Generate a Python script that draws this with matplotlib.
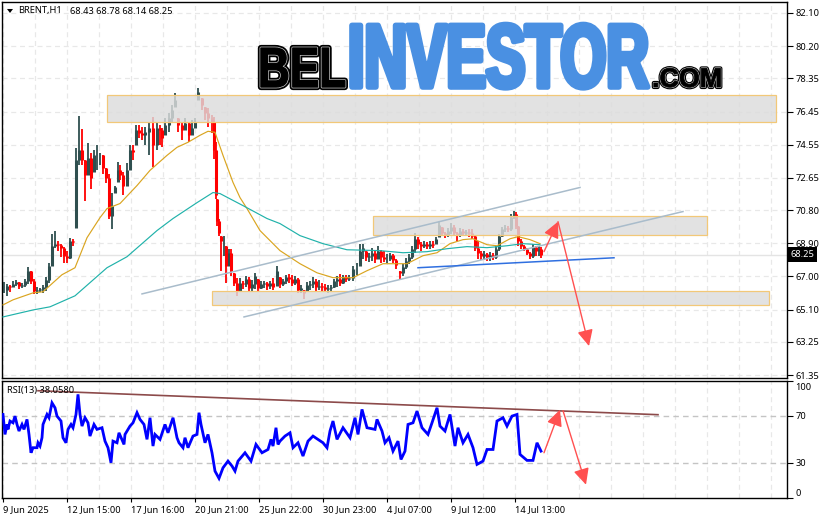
import matplotlib
matplotlib.use("Agg")
import matplotlib.pyplot as plt
import matplotlib.patheffects as pe
from matplotlib.patches import Rectangle, Polygon
from matplotlib.transforms import Affine2D, ScaledTranslation
import numpy as np

W, H = 827, 519

# candles, sampled along the chart: bar position, high, low, close
bars = [4,7,10,13,16,19,22,25,28,31,34,37,40,43,46,49,52,55,58,61,64,67,70,73,76,79,82,85,88,91,94,97,100,103,106,109,112,115,118,120,123,127,130,133,136,139,142,145,149,153,157,160,162,165,169,172,175,178,182,185,189,192,195,198,202,205,208,212,214,216,217,219,221,224,226,229,231,234,237,240,243,246,249,252,255,258,261,264,267,270,273,277,280,283,286,289,292,295,298,301,304,307,310,313,316,319,322,325,328,331,334,337,340,343,346,349,353,357,360,363,366,369,372,375,378,381,384,387,390,393,396,400,403,406,409,412,415,418,421,424,427,430,433,436,439,442,445,448,451,454,457,460,463,466,469,472,475,478,481,484,487,490,493,496,499,502,505,508,511,514,516,518,521,524,527,530,533,536,539,541]
highs = [66.69,66.58,66.52,66.75,66.81,66.69,66.64,66.87,67.56,67.33,66.87,66.40,66.35,66.52,66.98,67.79,69.45,69.63,69.05,68.88,68.71,68.48,69.22,69.16,74.34,76.18,75.43,73.65,74.63,74.05,74.23,74.51,74.05,73.94,73.19,72.90,71.81,72.21,73.54,73.36,72.96,73.48,74.51,74.51,75.66,75.66,75.55,75.55,75.78,76.12,75.84,75.66,75.49,76.06,76.35,76.81,77.50,76.07,75.84,76.07,75.78,75.95,76.07,77.79,77.21,76.70,76.64,76.24,76.12,74.69,71.46,70.32,69.34,69.34,68.76,68.59,68.59,67.21,66.93,66.93,66.75,67.04,66.98,66.81,67.21,66.87,66.75,66.75,66.69,66.75,66.93,67.61,66.98,66.87,67.10,67.15,67.10,67.04,66.93,66.52,66.23,66.69,66.75,66.98,66.87,66.81,66.64,66.58,66.52,66.52,66.87,67.04,67.15,67.10,67.10,67.10,67.61,67.79,68.88,68.88,68.48,68.36,68.65,68.48,68.76,68.53,68.48,68.30,68.36,68.30,68.01,67.33,67.73,68.07,68.30,68.76,69.51,69.28,68.99,69.05,68.99,69.05,69.05,69.28,70.14,69.85,69.57,69.80,70.09,69.97,69.57,69.80,69.74,69.68,69.74,69.74,69.40,69.05,68.48,68.48,68.36,68.42,68.36,68.76,69.45,69.85,69.97,69.91,70.60,70.78,70.72,69.91,69.16,68.82,68.65,68.42,68.88,68.76,68.76,68.70]
lows = [66.06,65.89,66.12,66.40,66.46,66.29,66.35,66.40,66.58,66.58,66.00,66.00,66.12,66.06,66.18,66.64,67.61,68.65,68.48,68.13,67.79,67.79,68.01,68.76,69.80,73.36,73.36,71.35,72.79,72.04,72.96,73.08,73.36,72.90,72.33,70.32,69.74,71.81,72.39,72.50,71.64,72.21,73.08,73.65,74.51,74.91,74.80,74.51,73.94,73.25,74.23,74.51,74.40,75.09,75.26,75.84,76.70,75.26,74.80,75.38,74.69,75.09,75.49,77.10,76.53,75.95,75.55,75.20,73.76,71.46,69.91,69.34,67.33,68.19,66.64,67.61,67.04,66.46,65.89,66.18,66.29,66.40,66.18,66.18,66.29,66.18,66.29,66.35,66.23,66.29,66.23,66.46,66.35,66.46,66.58,66.64,66.46,66.52,66.06,66.06,65.72,66.18,66.23,66.35,66.18,66.23,66.18,66.12,66.06,66.18,66.35,66.40,66.46,66.58,66.69,66.75,66.75,67.10,67.61,68.00,67.90,67.84,67.90,67.79,68.01,67.79,67.84,67.79,67.90,67.79,67.44,66.81,67.04,67.44,67.73,68.01,68.36,68.59,68.48,68.65,68.59,68.59,68.65,68.88,69.28,69.34,69.22,69.28,69.45,69.40,69.05,69.28,69.34,69.34,69.28,69.16,68.48,68.01,67.96,67.96,67.90,67.90,67.96,68.01,68.48,69.28,69.57,69.57,69.63,70.32,69.74,68.76,68.59,68.48,68.24,68.01,68.07,68.19,68.19,68.07]
closes = [66.23,66.46,66.40,66.58,66.69,66.46,66.52,66.75,67.33,66.75,66.18,66.23,66.29,66.40,66.81,67.61,68.76,68.88,68.82,68.65,68.19,68.07,69.05,68.99,73.65,74.23,73.65,72.79,73.77,72.62,73.94,73.94,73.94,73.19,72.62,70.49,71.06,72.10,73.08,72.79,72.21,73.08,74.23,74.11,75.38,75.20,75.09,75.26,75.49,74.51,75.49,75.38,74.91,75.66,76.07,76.53,77.10,75.66,75.38,75.78,75.09,75.49,75.84,77.56,76.81,76.35,76.07,75.84,74.23,71.64,70.20,69.51,69.05,69.05,67.61,68.36,67.33,66.64,66.18,66.64,66.58,66.87,66.35,66.58,67.04,66.35,66.58,66.64,66.46,66.64,66.40,67.33,66.58,66.75,66.98,66.87,66.64,66.87,66.23,66.35,66.06,66.52,66.58,66.75,66.40,66.46,66.40,66.29,66.35,66.40,66.75,66.87,66.64,66.98,66.87,66.93,67.44,67.44,68.48,68.65,68.13,68.19,68.36,68.01,68.48,68.13,68.01,68.01,68.24,67.96,67.67,67.21,67.56,67.90,68.13,68.59,69.16,68.88,68.76,68.88,68.76,68.88,68.82,69.16,69.97,69.51,69.40,69.63,69.85,69.51,69.40,69.63,69.51,69.57,69.51,69.34,68.65,68.36,68.19,68.30,68.13,68.24,68.13,68.59,69.34,69.74,69.80,69.74,70.43,70.60,69.91,69.05,68.76,68.59,68.36,68.19,68.71,68.48,68.59,68.25]

# moving averages
ma_slow_bars = [3,13,33,43,53,62,75,87,100,107,120,137,150,167,177,188,200,208,215,223,233,240,247,260,280,300,317,333,353,367,383,407,423,437,450,463,473,487,497,510,518,530,540]
ma_slow = [65.37,65.66,66.06,66.12,66.64,67.10,67.50,69.22,70.37,70.89,71.18,72.21,73.08,73.94,74.40,74.69,75.09,75.32,75.26,73.94,72.39,71.52,70.89,69.63,68.48,67.73,67.21,66.93,66.93,67.33,67.73,67.73,68.19,68.36,68.88,69.11,69.16,68.82,68.76,69.16,69.28,69.11,68.88]
ma_long_bars = [3,33,50,75,107,127,157,173,197,213,220,243,267,280,300,323,347,380,403,427,447,467,487,507,523,540]
ma_long = [64.68,65.08,65.26,65.89,67.50,68.13,69.63,70.32,71.23,71.81,71.75,71.06,70.32,70.03,69.34,68.88,68.53,68.48,68.36,68.42,68.59,68.71,68.65,68.76,68.88,68.82]

# RSI
rsi_bars = [3,5,7,8,10,13,15,17,19,22,24,27,29,31,33,37,38,40,42,43,47,49,52,55,57,61,63,66,68,71,73,76,78,80,82,85,88,90,94,97,102,105,108,111,113,117,119,124,125,130,133,137,140,144,147,150,153,155,160,165,168,173,177,179,183,185,188,193,197,199,201,205,208,212,215,219,223,228,232,235,238,245,251,256,262,268,271,273,276,278,280,285,290,293,298,303,308,313,318,323,327,330,333,337,343,350,355,358,362,367,375,377,382,385,389,393,398,401,405,408,413,417,422,428,432,437,440,445,450,455,458,463,468,473,477,483,487,493,497,503,507,512,517,520,527,533,537,541]
rsi_vals = [71.1,54.1,62.6,58.4,65.5,64.0,69.7,62.6,57.0,62.6,58.4,66.9,54.1,38.5,42.8,42.8,47.0,44.2,51.3,62.6,71.1,68.3,81.0,76.8,69.7,65.5,51.3,47.0,58.4,62.6,59.8,71.1,88.2,71.1,61.2,68.3,64.0,52.7,62.6,58.4,59.8,48.4,42.8,30.0,48.4,47.0,55.5,45.6,54.1,61.2,64.0,72.6,66.9,62.6,49.9,68.3,44.2,54.1,49.9,62.6,55.5,68.3,51.3,47.0,42.8,51.3,42.8,52.7,54.1,72.6,62.6,47.0,54.1,38.5,22.9,16.7,25.7,31.4,27.2,22.9,31.4,38.5,31.4,45.6,38.5,41.3,49.9,44.2,59.8,45.6,48.4,52.7,55.5,42.8,47.0,35.7,48.4,52.7,49.9,47.0,42.8,57.0,65.5,49.9,59.8,51.3,68.3,54.1,75.4,59.8,58.4,66.9,57.0,47.0,51.3,39.9,48.4,32.8,39.9,62.6,64.0,74.0,59.8,54.1,64.0,76.8,61.2,57.0,71.1,44.2,59.8,47.0,54.1,42.8,28.6,31.4,41.3,41.3,65.5,68.3,61.2,69.7,71.1,37.1,32.0,32.0,47.0,39.9]

price_ticks = [82.10, 80.20, 78.35, 76.45, 74.55, 72.65, 70.80, 68.90, 67.00, 65.10, 63.25, 61.35]
rsi_ticks = [100, 70, 30, 0]
time_labels = ["9 Jun 2025", "12 Jun 15:00", "17 Jun 16:00", "20 Jun 21:00", "25 Jun 22:00",
               "30 Jun 23:00", "4 Jul 07:00", "9 Jul 12:00", "14 Jul 13:00"]
last_price = 68.25

# price zones: first bar, last bar, top, bottom
zones = [(107, 776, 77.39, 75.83), (373, 707, 70.49, 69.39), (212, 769, 66.18, 65.37)]
channel_upper = ([142, 580], [66.00, 72.10])
channel_lower = ([244, 683], [64.68, 70.72])
support_line = ([418, 614], [67.50, 68.07])
rsi_trend = ([38, 658], [91.3, 70.9])
price_path = ([544, 558, 589], [68.42, 70.14, 63.01])
rsi_path_up = ([544, 560], [38.5, 75.1])
rsi_path_down = ([563, 586], [74.3, 11.3])

DARK = "#2f4f4f"
RED = "#ff0000"
ARROW = "#ff5050"
GRID = "#e8e8e8"
TXT = "Noto Sans"
FS = 6.7
LOGO_BASE = H - 87


class Stretched(pe.Stroke):
    # real text, made taller about its baseline, since no condensed heavy face is installed
    def __init__(self, x0, sx, sy, **kw):
        super().__init__(**kw)
        self.x0, self.sx, self.sy = x0, sx, sy

    def _offset_transform(self, renderer):
        return (Affine2D().translate(-self.x0, -LOGO_BASE).scale(self.sx, self.sy)
                .translate(self.x0, LOGO_BASE))


def px_axes(fig, left, top, right, bottom):
    return fig.add_axes([left / W, 1 - bottom / H, (right - left) / W, (bottom - top) / H])


def style_axes(ax):
    ax.set_xlim(2, 787)
    ax.yaxis.tick_right()
    for s in ax.spines.values():
        s.set_linewidth(1.0)
    ax.tick_params(axis="y", length=4, width=0.8, pad=2, labelsize=FS)
    ax.set_axisbelow(True)
    for v in np.arange(3, 787, 32):
        ax.axvline(v, color=GRID, lw=0.9, ls=(0, (4, 3)), zorder=0)


def arrow(ax, xs, ys):
    ax.annotate("", xy=(xs[1], ys[1]), xytext=(xs[0], ys[0]),
                arrowprops=dict(arrowstyle="-|>,head_length=0.7,head_width=0.34", color=ARROW,
                                lw=1.0, mutation_scale=14, shrinkA=0, shrinkB=0), zorder=7)


def logo_text(fig, x0, x1, s, size, sy, color, layers):
    # fit the word to x0..x1, then stretch it upward from the logo baseline
    t = fig.text(x0 / W, LOGO_BASE / H, s, fontsize=size, weight="bold", family="Liberation Sans",
                 color=color, va="baseline")
    width = t.get_window_extent(fig.canvas.get_renderer()).width
    sx = (x1 - x0) / width
    t.set_path_effects([Stretched(x0, sx, sy, linewidth=lw, foreground=c) for lw, c in layers])
    return t


fig = plt.figure(figsize=(W / 100, H / 100), dpi=100)
ax = px_axes(fig, 2, 2, 787, 378)
rs = px_axes(fig, 2, 380.5, 787, 498)
style_axes(ax)
style_axes(rs)

# price panel
ax.set_ylim(61.18, 82.73)
ax.set_xticks([])
ax.set_yticks(price_ticks)
ax.set_yticklabels([f"{p:.2f}" for p in price_ticks], family=TXT)
for p in price_ticks:
    ax.axhline(p, color=GRID, lw=0.9, ls=(0, (4, 3)), zorder=0)
ax.axhline(last_price, color="#e4e4e4", lw=1.0, zorder=0.5)

prev = closes[0]
for x, hi, lo, c in zip(bars, highs, lows, closes):
    o = min(max(prev, lo), hi)
    col = DARK if c >= o else RED
    ax.plot([x, x], [lo, hi], color=col, lw=1.3, solid_capstyle="butt", zorder=2)
    ax.plot([x, x], [o, c], color=col, lw=2.2, solid_capstyle="butt", zorder=2)
    prev = c

ax.plot(ma_slow_bars, ma_slow, color="#daa520", lw=0.85, zorder=3)
ax.plot(ma_long_bars, ma_long, color="#20b2aa", lw=0.85, zorder=3)

for x0, x1, top, bot in zones:
    ax.add_patch(Rectangle((x0, bot), x1 - x0, top - bot, facecolor="#dcdcdc", alpha=0.82,
                           edgecolor="none", zorder=4))
    ax.add_patch(Rectangle((x0, bot), x1 - x0, top - bot, facecolor="none",
                           edgecolor="#f2c878", lw=0.9, zorder=4))

ax.plot(*channel_upper, color="#a9bccb", lw=1.1, zorder=5)
ax.plot(*channel_lower, color="#a9bccb", lw=1.1, zorder=5)
ax.plot(*support_line, color="#2f6fe0", lw=1.1, zorder=5)
arrow(ax, price_path[0][:2], price_path[1][:2])
arrow(ax, price_path[0][1:], price_path[1][1:])

# current price box
ax.text(790.5, last_price, f"{last_price:.2f}", color="white", fontsize=FS, family=TXT, va="center",
        ha="left", clip_on=False, zorder=9,
        bbox=dict(boxstyle="square,pad=0.3", fc="black", ec="black", lw=0))

# header
ax.add_patch(Polygon([(7, 82.33), (13, 82.33), (10, 82.10)], closed=True, fc="black", ec="none", zorder=9))
fig.text(18 / W, 1 - 11 / H, "BRENT,H1", fontsize=FS, family=TXT, va="center")
fig.text(70 / W, 1 - 11 / H, "68.43 68.78 68.14 68.25", fontsize=FS, family=TXT, va="center")

# RSI panel
rs.set_ylim(0, 100)
rs.set_yticks(rsi_ticks)
rs.set_yticklabels([str(v) for v in rsi_ticks], family=TXT)
top_label = rs.get_yticklabels()[0]
top_label.set_va("top")
top_label.set_transform(top_label.get_transform() + ScaledTranslation(0, -2 / 72, fig.dpi_scale_trans))
rs.get_yticklabels()[-1].set_va("bottom")
for v in (70, 30):
    rs.axhline(v, color="#c4c4c4", lw=1.0, ls=(0, (4, 3)), zorder=0.5)
rs.plot(rsi_bars, rsi_vals, color="#0000ff", lw=2.0, solid_joinstyle="miter", zorder=3)
rs.plot(*rsi_trend, color="#8c4a4a", lw=1.2, zorder=4)
arrow(rs, *rsi_path_up)
arrow(rs, *rsi_path_down)
rs.text(7, 91.5, "RSI(13) 38.0580", fontsize=FS, family=TXT, va="center", zorder=6)

tick_pos = [3 + 64 * i for i in range(len(time_labels))]
rs.set_xticks(tick_pos)
rs.set_xticklabels(time_labels, family=TXT, fontsize=FS, ha="left")
rs.tick_params(axis="x", length=3, width=0.8, pad=2)

# logo
logo_text(fig, 258, 346, "BEL", 30, 1.36, "black", [(4.5, "black"), (2.0, "#c8c8c8"), (1.0, "black")])
logo_text(fig, 348, 649, "INVESTOR", 43, 1.5, "#4a90e2", [(4.0, "#4a90e2")])
logo_text(fig, 652, 722, ".COM", 18, 1.08, "black", [(3.0, "black"), (1.4, "#c8c8c8"), (0.6, "black")])

fig.savefig("out.png", dpi=100)
